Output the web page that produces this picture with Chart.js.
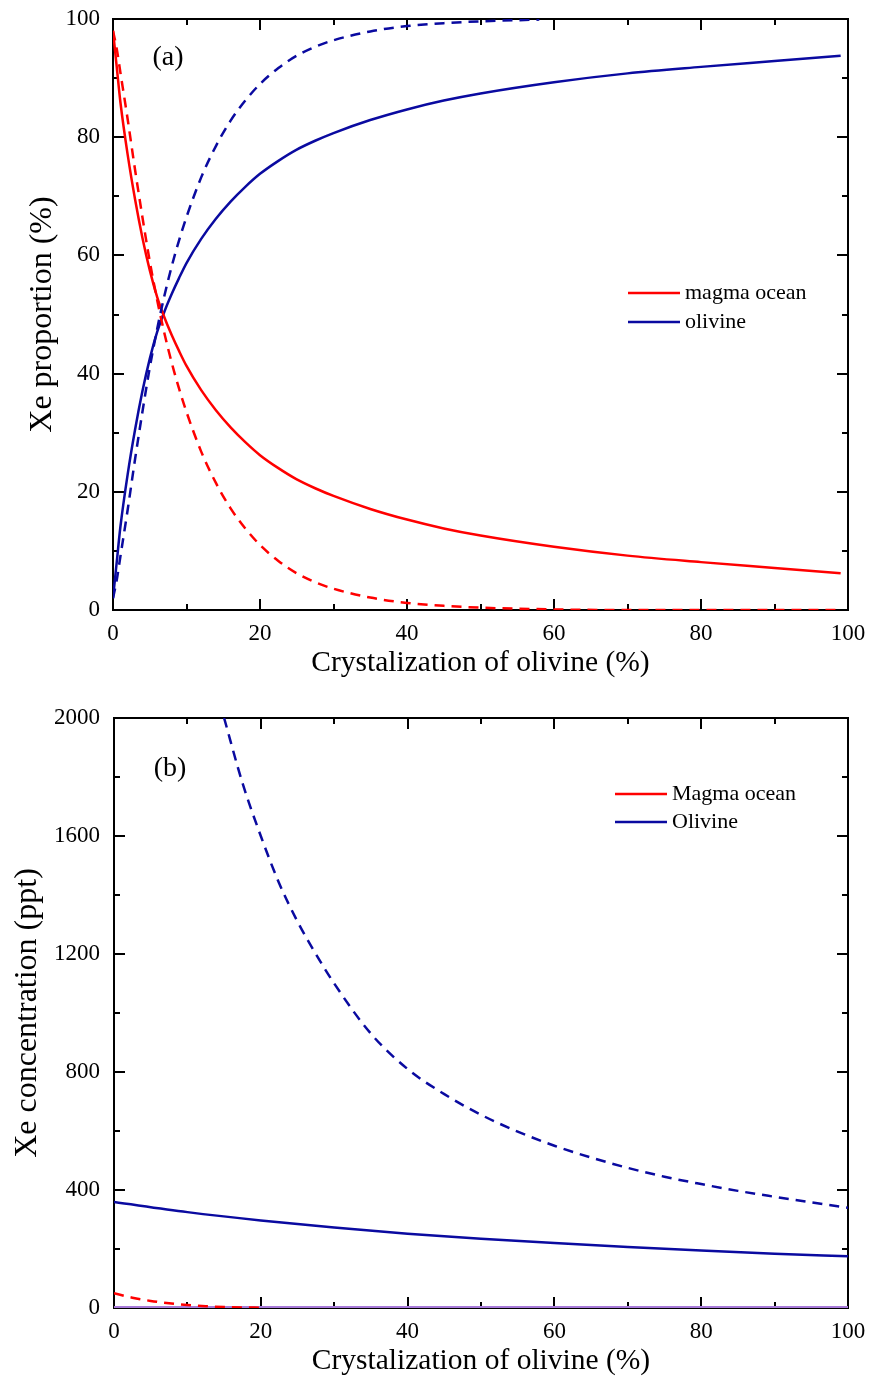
<!DOCTYPE html>
<html>
<head>
<meta charset="utf-8">
<script src="https://cdn.jsdelivr.net/npm/chart.js@4.4.0/dist/chart.umd.min.js"></script>
<style>
  html, body { margin: 0; padding: 0; background: #ffffff; }
  #wrap { position: relative; width: 869px; height: 1379px; }
  canvas { position: absolute; left: 0; display: block; }
  #chartA { top: 0; }
  #chartB { top: 690px; }
</style>
</head>
<body>
<div id="wrap">
  <canvas id="chartA" width="869" height="690"></canvas>
  <canvas id="chartB" width="869" height="689"></canvas>
</div>
<script>
// ---------- Panel (a): Xe proportion (%) vs crystallization of olivine (%) ----------
const xPropA = [0, 0.5, 1, 2, 3, 4, 5, 6, 7, 8, 9, 10, 12, 14, 16, 18, 20, 22.5, 25, 27.5, 30, 35, 40, 45, 50, 60, 70, 80, 90, 99];
const magmaSolidA   = [98, 92, 86, 77, 69.5, 63, 57.5, 53, 49.5, 46.5, 43.8, 41.3, 37.2, 33.8, 30.9, 28.4, 26.2, 24.0, 22.1, 20.6, 19.3, 17.1, 15.3, 13.8, 12.6, 10.7, 9.2, 8.1, 7.1, 6.2];
const olivineSolidA = [2, 8, 14, 23, 30.5, 37, 42.5, 47, 50.5, 53.5, 56.2, 58.7, 62.8, 66.2, 69.1, 71.6, 73.8, 76.0, 77.9, 79.4, 80.7, 82.9, 84.7, 86.2, 87.4, 89.3, 90.8, 91.9, 92.9, 93.8];
const magmaDashA    = [98, 95, 91, 83, 74.5, 66.5, 59, 52.5, 46.8, 41.8, 37.4, 33.5, 26.8, 21.5, 17.2, 13.8, 11, 8.3, 6.2, 4.7, 3.6, 2.1, 1.2, 0.7, 0.4, 0.1, 0, 0, 0, 0];
const xOlivineDashA = [0, 0.5, 1, 2, 3, 4, 5, 6, 7, 8, 9, 10, 12, 14, 16, 18, 20, 22.5, 25, 27.5, 30, 35, 40, 45, 50, 58];
const olivineDashA  = [2, 5, 9, 17, 25.5, 33.5, 41, 47.5, 53.2, 58.2, 62.6, 66.5, 73.2, 78.5, 82.8, 86.2, 89, 91.7, 93.8, 95.3, 96.4, 97.9, 98.8, 99.3, 99.6, 99.9];
const xTicksA = [0, 20, 40, 60, 80, 100];
const yTicksA = [0, 20, 40, 60, 80, 100];

// ---------- Panel (b): Xe concentration (ppt) vs crystallization of olivine (%) ----------
const xConcB = [0, 10, 20, 30, 40, 50, 60, 70, 80, 90, 100];
const olivineSolidB = [359, 325, 297, 273, 252, 235, 220, 207, 195, 184, 175];
const magmaSolidB   = [2, 2, 2, 2, 2, 2, 2, 2, 2, 2, 2];
const xOlivineDashB = [15, 17.5, 20, 22.5, 25, 27.5, 30, 35, 40, 45, 50, 55, 60, 65, 70, 75, 80, 85, 90, 95, 100];
const olivineDashB  = [2000, 1780, 1600, 1440, 1310, 1200, 1100, 930, 810, 725, 655, 598, 550, 510, 475, 445, 420, 397, 377, 358, 340];
const xMagmaDashB = [0, 2.5, 5, 7.5, 10, 12.5, 15, 17.5, 20];
const magmaDashB  = [50, 35, 24, 16, 10, 6, 3.5, 2, 1];
const xTicksB = [0, 20, 40, 60, 80, 100];
const yTicksB = [0, 400, 800, 1200, 1600, 2000];

const RED = '#ff0000';
const BLUE = '#0a0aa0';
const LAVENDER = '#a77ad9';
const SERIF = '"Liberation Serif", "Times New Roman", serif';

function pairs(xs, ys) { return xs.map((x, i) => ({ x: x, y: ys[i] })); }

function series(label, xs, ys, color, dashed, inLegend, width) {
  return {
    label: label,
    data: pairs(xs, ys),
    borderColor: color,
    borderWidth: width || 2.5,
    borderDash: dashed ? [10, 7] : [],
    pointRadius: 0,
    fill: false,
    cubicInterpolationMode: 'monotone',
    inLegend: inLegend
  };
}

// Boxed frame with inward major/minor ticks on all four sides.
const frameTicks = {
  id: 'frameTicks',
  beforeDatasetsDraw(chart, args, opts) {
    const { ctx, chartArea: a, scales } = chart;
    const xs = scales.x, ys = scales.y;
    ctx.save();
    ctx.strokeStyle = '#000';
    ctx.lineWidth = 2;
    ctx.strokeRect(a.left, a.top, a.right - a.left, a.bottom - a.top);
    const seg = (x1, y1, x2, y2) => { ctx.beginPath(); ctx.moveTo(x1, y1); ctx.lineTo(x2, y2); ctx.stroke(); };
    const isMajor = (v, step) => Math.abs(v / step - Math.round(v / step)) < 1e-6;
    for (let v = xs.min; v <= xs.max + 1e-9; v += opts.xMinor) {
      const len = isMajor(v, opts.xMajor) ? opts.majorLen : opts.minorLen;
      const p = Math.round(xs.getPixelForValue(v));
      seg(p, a.bottom, p, a.bottom - len);
      seg(p, a.top, p, a.top + len);
    }
    for (let v = ys.min; v <= ys.max + 1e-9; v += opts.yMinor) {
      const len = isMajor(v, opts.yMajor) ? opts.majorLen : opts.minorLen;
      const p = Math.round(ys.getPixelForValue(v));
      seg(a.left, p, a.left + len, p);
      seg(a.right, p, a.right - len, p);
    }
    ctx.restore();
  }
};

// In-plot legend (line sample + label) and panel tag.
const panelLegend = {
  id: 'panelLegend',
  afterDatasetsDraw(chart, args, opts) {
    const ctx = chart.ctx;
    ctx.save();
    ctx.font = opts.font;
    ctx.textBaseline = 'middle';
    ctx.textAlign = 'left';
    const items = chart.data.datasets.filter(d => d.inLegend);
    items.forEach((ds, i) => {
      const y = opts.y + i * opts.rowGap;
      ctx.strokeStyle = ds.borderColor;
      ctx.lineWidth = ds.borderWidth;
      ctx.setLineDash([]);
      ctx.beginPath();
      ctx.moveTo(opts.x, y);
      ctx.lineTo(opts.x + opts.lineLen, y);
      ctx.stroke();
      ctx.fillStyle = '#000';
      ctx.fillText(ds.label, opts.x + opts.lineLen + opts.gap, y);
    });
    ctx.font = opts.tagFont;
    ctx.textAlign = 'center';
    ctx.fillStyle = '#000';
    ctx.fillText(opts.tag, opts.tagX, opts.tagY);
    ctx.restore();
  }
};

function makeOptions(cfg) {
  return {
    responsive: false,
    animation: false,
    events: [],
    layout: { padding: { left: 0, right: cfg.padRight, top: cfg.padTop, bottom: 0 } },
    plugins: {
      legend: { display: false },
      tooltip: { enabled: false },
      frameTicks: cfg.frame,
      panelLegend: cfg.legend
    },
    scales: {
      x: {
        type: 'linear',
        min: cfg.xTicks[0],
        max: cfg.xTicks[cfg.xTicks.length - 1],
        afterBuildTicks(scale) { scale.ticks = cfg.xTicks.map(v => ({ value: v })); },
        ticks: { color: '#000', padding: 10, font: { family: SERIF, size: 23 },
                 callback: v => String(v) },
        grid: { display: false, drawTicks: false },
        border: { display: false },
        title: {
          display: true, text: cfg.xTitle, color: '#000',
          font: { family: SERIF, size: 29.5 },
          padding: { top: 0, bottom: cfg.xTitlePad }
        },
        afterFit(scale) {
          scale.height = cfg.xAxisH;
          scale.paddingLeft = 0; scale.paddingRight = 0;
        }
      },
      y: {
        type: 'linear',
        min: cfg.yTicks[0],
        max: cfg.yTicks[cfg.yTicks.length - 1],
        afterBuildTicks(scale) { scale.ticks = cfg.yTicks.map(v => ({ value: v })); },
        ticks: { color: '#000', padding: cfg.yTickPad, font: { family: SERIF, size: 23 },
                 callback: v => String(v) },
        grid: { display: false, drawTicks: false },
        border: { display: false },
        title: {
          display: true, text: cfg.yTitle, color: '#000',
          font: { family: SERIF, size: 32 },
          padding: { top: cfg.yTitlePad, bottom: 0 }
        },
        afterFit(scale) {
          scale.width = cfg.yAxisW;
          scale.paddingTop = 0; scale.paddingBottom = 0;
        }
      }
    }
  };
}

new Chart(document.getElementById('chartA'), {
  type: 'line',
  data: {
    datasets: [
      series('magma ocean (dashed)', xPropA, magmaDashA, RED, true, false),
      series('olivine (dashed)', xOlivineDashA, olivineDashA, BLUE, true, false),
      series('magma ocean', xPropA, magmaSolidA, RED, false, true),
      series('olivine', xPropA, olivineSolidA, BLUE, false, true)
    ]
  },
  options: makeOptions({
    padRight: 21, padTop: 19, xAxisH: 80, yAxisW: 113,
    xTicks: xTicksA, yTicks: yTicksA, yTickPad: 13,
    xTitle: 'Crystalization of olivine (%)', xTitlePad: 9,
    yTitle: 'Xe proportion (%)', yTitlePad: 23,
    frame: { xMajor: 20, xMinor: 10, yMajor: 20, yMinor: 10, majorLen: 11, minorLen: 6 },
    legend: { x: 628, y: 293, rowGap: 29, lineLen: 52, gap: 5, font: '22px ' + SERIF,
              tag: '(a)', tagX: 168, tagY: 58, tagFont: '28px ' + SERIF }
  }),
  plugins: [frameTicks, panelLegend]
});

new Chart(document.getElementById('chartB'), {
  type: 'line',
  data: {
    datasets: [
      series('Magma ocean (dashed)', xMagmaDashB, magmaDashB, RED, true, false),
      series('Olivine (dashed)', xOlivineDashB, olivineDashB, BLUE, true, false),
      series('Olivine', xConcB, olivineSolidB, BLUE, false, false),
      series('Magma ocean (solid)', xConcB, magmaSolidB, LAVENDER, false, false, 3),
      series('Magma ocean', [], [], RED, false, true),
      series('Olivine', [], [], BLUE, false, true)
    ]
  },
  options: makeOptions({
    padRight: 21, padTop: 28, xAxisH: 71, yAxisW: 114,
    xTicks: xTicksB, yTicks: yTicksB, yTickPad: 14,
    xTitle: 'Crystalization of olivine (%)', xTitlePad: 0,
    yTitle: 'Xe concentration (ppt)', yTitlePad: 8,
    frame: { xMajor: 20, xMinor: 10, yMajor: 400, yMinor: 200, majorLen: 11, minorLen: 6 },
    legend: { x: 615, y: 104, rowGap: 28, lineLen: 52, gap: 5, font: '22px ' + SERIF,
              tag: '(b)', tagX: 170, tagY: 79, tagFont: '28px ' + SERIF }
  }),
  plugins: [frameTicks, panelLegend]
});
</script>
</body>
</html>
